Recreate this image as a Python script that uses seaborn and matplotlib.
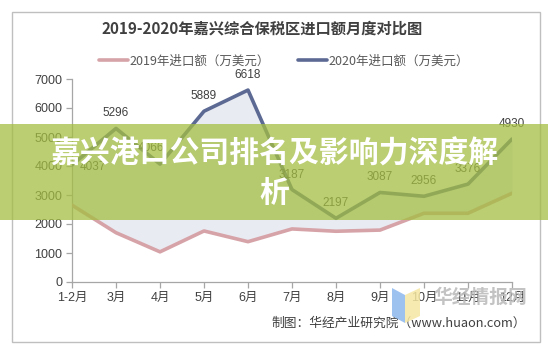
import matplotlib
matplotlib.use("Agg")
import matplotlib.pyplot as plt
from matplotlib.patches import Rectangle, Polygon
from matplotlib.lines import Line2D
import seaborn as sns
import pandas as pd
import numpy as np

months = ["1-2月", "3月", "4月", "5月", "6月", "7月", "8月", "9月", "10月", "11月", "12月"]
imports_2019 = [2650, 1700, 1040, 1760, 1390, 1830, 1750, 1790, 2370, 2370, 3060]
imports_2020 = [4037, 5296, 4066, 5889, 6618, 3187, 2197, 3087, 2956, 3376, 4930]
series_names = ["2019年进口额（万美元）", "2020年进口额（万美元）"]
yticks = [0, 1000, 2000, 3000, 4000, 5000, 6000, 7000]
title = "2019-2020年嘉兴综合保税区进口额月度对比图"
credit = "制图：华经产业研究院（www.huaon.com）"
banner = ["嘉兴港口公司排名及影响力深度解", "析"]
watermark = "华经情报网"

sns.set_theme(style="white")
plt.rcParams["font.family"] = ["Liberation Sans", "Noto Sans CJK SC", "DejaVu Sans"]

W, H = 548, 346
fig = plt.figure(figsize=(W / 100, H / 100), dpi=100)
fig.patch.set_facecolor("white")

def fx(px):
    return px / W

def fy(py):
    return 1 - py / H

ax = fig.add_axes([fx(72), 64 / H, 440 / W, 203 / H])

x = np.arange(len(months))
df = pd.DataFrame({
    "idx": np.concatenate([x, x]),
    "value": imports_2019 + imports_2020,
    "series": [series_names[0]] * len(months) + [series_names[1]] * len(months),
})
c2019 = "#D6A3A8"
c2020 = "#5C6993"
ax.fill_between(x, imports_2019, imports_2020, color="#E9EBF2", zorder=1, lw=0)
sns.lineplot(data=df, x="idx", y="value", hue="series", palette=[c2019, c2020],
             ax=ax, lw=2.6, legend=False, zorder=3)

ax.set_xlim(0, len(months) - 1)
ax.set_ylim(0, 7000)
ax.set_xticks(x)
ax.set_xticklabels(months)
ax.set_yticks(yticks)
ax.set_xlabel("")
ax.set_ylabel("")
for s in ["top", "right"]:
    ax.spines[s].set_visible(False)
for s in ["left", "bottom"]:
    ax.spines[s].set_color("#A6A6A6")
    ax.spines[s].set_linewidth(0.9)
ax.tick_params(axis="both", which="both", direction="out", length=4, width=0.9,
               color="#A6A6A6", labelcolor="#404040", labelsize=9, pad=3,
               left=True, bottom=True)
ax.patch.set_alpha(0)

# data labels for 2020
offsets = {0: (21, -2), 2: (-9, 16)}
for i, v in enumerate(imports_2020):
    dx, dy = offsets.get(i, (0, 15))
    ax.annotate(str(v), (i, v), xytext=(dx, dy), textcoords="offset pixels",
                ha="center", va="center", fontsize=8.5, color="#404040", zorder=4)

# title
fig.text(fx(262), fy(29), title, ha="center", va="center", fontsize=11,
         fontweight="bold", color="#404040",
         family=["Noto Sans CJK SC", "DejaVu Sans"])

# legend
handles = [Line2D([], [], color=c2019, lw=2.6), Line2D([], [], color=c2020, lw=2.6)]
leg = fig.legend(handles, series_names, loc="center", bbox_to_anchor=(fx(284), fy(61)),
                 ncol=2, frameon=False, handlelength=2.3, handletextpad=0.1,
                 columnspacing=2.3, prop={"family": ["Noto Sans CJK SC"], "size": 9})
for t in leg.get_texts():
    t.set_color("#595959")

# credit
fig.text(fx(526), fy(323), credit, ha="right", va="center", fontsize=9.2,
         color="#404040", family=["Noto Sans CJK SC", "DejaVu Sans"])

# outer frame
fig.patches.append(Rectangle((fx(12), fy(342)), fx(528), (330) / H, transform=fig.transFigure,
                             fill=False, edgecolor="#BFBFBF", lw=1, zorder=2))

# watermark logo
fig.patches.append(Polygon([(fx(392), fy(288)), (fx(405), fy(295)), (fx(405), fy(323)), (fx(392), fy(316))],
                           closed=True, transform=fig.transFigure, facecolor="#8DB8EE",
                           edgecolor="none", alpha=0.85, zorder=4))
fig.patches.append(Polygon([(fx(405), fy(295)), (fx(420), fy(288)), (fx(420), fy(316)), (fx(405), fy(323))],
                           closed=True, transform=fig.transFigure, facecolor="#F6E7A2",
                           edgecolor="none", alpha=0.85, zorder=4))
fig.text(fx(480), fy(297), watermark, ha="center", va="center", fontsize=13.5,
         fontweight="bold", color="#BDBDBD", alpha=0.9, zorder=4,
         family=["Noto Sans CJK SC"])

# banner overlay
fig.patches.append(Rectangle((0, fy(220)), 1, 96 / H, transform=fig.transFigure,
                             facecolor="#A4BE42", alpha=0.75, edgecolor="none", zorder=5))
fig.text(fx(274), fy(154), banner[0], ha="center", va="center", fontsize=21.5,
         fontweight="bold", color="white", zorder=6, family=["Noto Sans CJK SC"])
fig.text(fx(274), fy(193), banner[1], ha="center", va="center", fontsize=21.5,
         fontweight="bold", color="white", zorder=6, family=["Noto Sans CJK SC"])

fig.savefig("out.png", dpi=100)
